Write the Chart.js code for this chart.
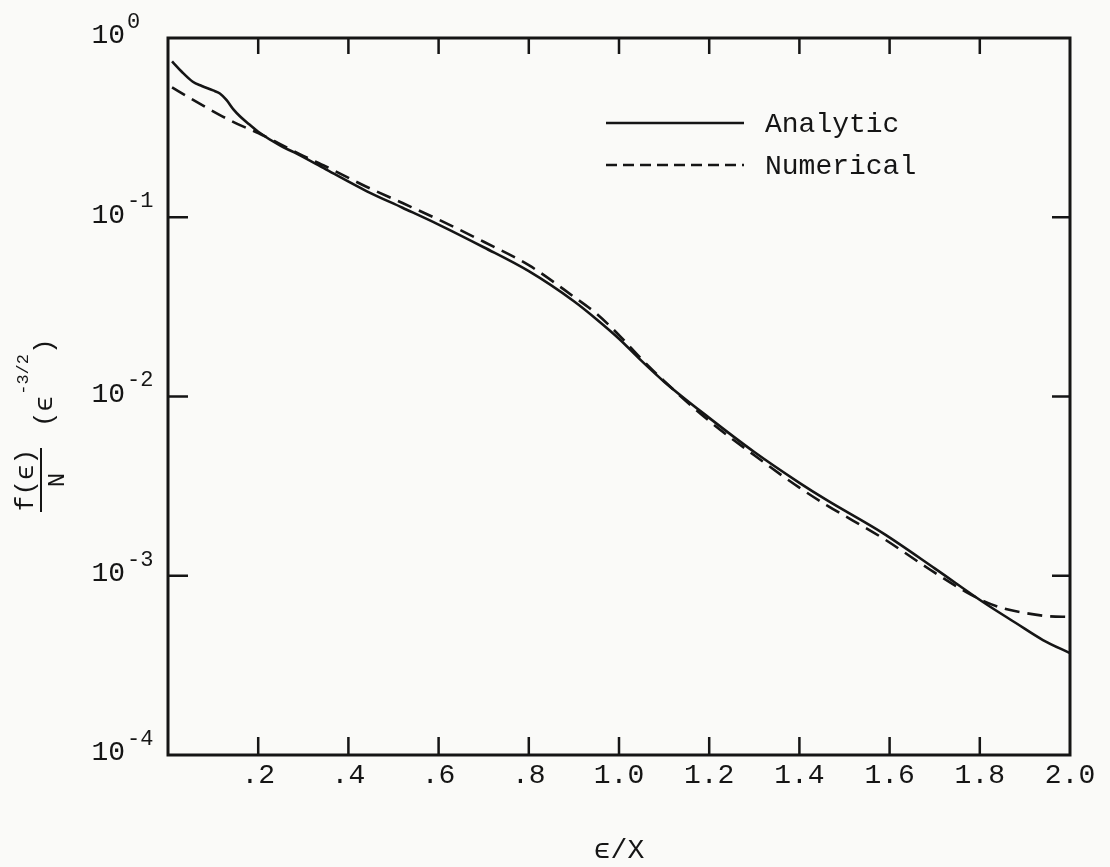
<!DOCTYPE html>
<html>
<head>
<meta charset="utf-8">
<script src="https://cdn.jsdelivr.net/npm/chart.js@4.4.1/dist/chart.umd.min.js"></script>
<style>
  html, body { margin: 0; padding: 0; background: #fafaf8; }
  #wrap { width: 1110px; height: 867px; }
</style>
</head>
<body>
<div id="wrap"><canvas id="c" width="1110" height="867"></canvas></div>
<script>
// ---- data ----
const analyticX = [0.009, 0.03, 0.055, 0.075, 0.1, 0.115, 0.13, 0.145, 0.16, 0.18, 0.2, 0.25, 0.28, 0.35, 0.44, 0.52, 0.6, 0.7, 0.8, 0.9, 0.95, 1.0, 1.05, 1.1, 1.2, 1.3, 1.4, 1.46, 1.585, 1.7, 1.807, 1.88, 1.94, 2.0];
const analyticY = [0.74, 0.65, 0.57, 0.54, 0.51, 0.49, 0.45, 0.40, 0.365, 0.33, 0.30, 0.25, 0.23, 0.185, 0.14, 0.113, 0.091, 0.068, 0.050, 0.034, 0.027, 0.021, 0.0158, 0.0121, 0.0076, 0.0049, 0.0033, 0.00265, 0.00173, 0.00110, 0.000714, 0.000545, 0.000438, 0.00037];
const numericalX = [0.009, 0.05, 0.1, 0.15, 0.2, 0.25, 0.3, 0.35, 0.44, 0.52, 0.6, 0.7, 0.8, 0.9, 0.95, 1.0, 1.05, 1.1, 1.2, 1.3, 1.4, 1.46, 1.585, 1.69, 1.77, 1.81, 1.85, 1.9, 1.95, 2.0];
const numericalY = [0.53, 0.46, 0.39, 0.335, 0.295, 0.255, 0.22, 0.192, 0.148, 0.12, 0.097, 0.073, 0.054, 0.036, 0.029, 0.022, 0.0162, 0.0122, 0.0073, 0.0047, 0.0031, 0.00248, 0.00162, 0.00108, 0.00081, 0.00072, 0.00066, 0.00062, 0.000595, 0.00059];

const xTickValues = [0, 0.2, 0.4, 0.6, 0.8, 1.0, 1.2, 1.4, 1.6, 1.8, 2.0];
const xTickLabels = ['', '.2', '.4', '.6', '.8', '1.0', '1.2', '1.4', '1.6', '1.8', '2.0'];
const yTickValues = [1, 0.1, 0.01, 0.001, 0.0001];
const yTickExponents = ['0', '-1', '-2', '-3', '-4'];
const seriesNames = ['Analytic', 'Numerical'];
const xTitle = 'ϵ/X';
const yTitleNum = 'f(ϵ)';
const yTitleDen = 'N';
const yTitleUnit = '(ϵ';
const yTitleExp = '-3/2';

const INK = '#151515';
const MONO = '"Liberation Mono", "DejaVu Sans Mono", monospace';

const toPts = (xs, ys) => xs.map((x, i) => ({ x: x, y: ys[i] }));

const decor = {
  id: 'decor',
  beforeDraw(chart) {
    const ctx = chart.ctx;
    ctx.save();
    ctx.fillStyle = '#fafaf8';
    ctx.fillRect(0, 0, chart.width, chart.height);
    ctx.restore();
  },
  afterDraw(chart) {
    const ctx = chart.ctx;
    const a = chart.chartArea;
    const xs = chart.scales.x, ys = chart.scales.y;
    ctx.save();
    ctx.strokeStyle = INK;
    ctx.fillStyle = INK;
    ctx.lineCap = 'butt';
    // frame
    ctx.lineWidth = 3;
    ctx.strokeRect(a.left, a.top, a.right - a.left, a.bottom - a.top);
    // inward tick marks
    ctx.lineWidth = 2.5;
    ctx.beginPath();
    xTickValues.forEach(v => {
      if (v <= xs.min || v >= xs.max) return;
      const px = xs.getPixelForValue(v);
      ctx.moveTo(px, a.bottom); ctx.lineTo(px, a.bottom - 18);
      ctx.moveTo(px, a.top); ctx.lineTo(px, a.top + 16);
    });
    yTickValues.forEach(v => {
      if (v <= ys.min || v >= ys.max) return;
      const py = ys.getPixelForValue(v);
      ctx.moveTo(a.left, py); ctx.lineTo(a.left + 20, py);
      ctx.moveTo(a.right, py); ctx.lineTo(a.right - 18, py);
    });
    ctx.stroke();
    // y tick labels 10^n
    ctx.textBaseline = 'middle';
    yTickValues.forEach((v, i) => {
      const py = ys.getPixelForValue(v);
      ctx.font = '28px ' + MONO;
      ctx.textAlign = 'right';
      ctx.fillText('10', a.left - 43, py - 2);
      ctx.font = '22px ' + MONO;
      ctx.textAlign = 'left';
      ctx.fillText(yTickExponents[i], a.left - 41, py - 16);
    });
    // y title (rotated, fraction)
    ctx.save();
    ctx.translate(0, 424);
    ctx.rotate(-Math.PI / 2);
    ctx.textBaseline = 'alphabetic';
    ctx.font = '26px ' + MONO;
    ctx.textAlign = 'center';
    ctx.fillText(yTitleNum, -56, 33);
    ctx.lineWidth = 2;
    ctx.beginPath();
    ctx.moveTo(-88, 41); ctx.lineTo(-24, 41);
    ctx.stroke();
    ctx.font = '24px ' + MONO;
    ctx.fillText(yTitleDen, -56, 64);
    ctx.textAlign = 'left';
    ctx.font = '26px ' + MONO;
    let cx = -3;
    ctx.fillText(yTitleUnit, cx, 52);
    cx += ctx.measureText(yTitleUnit).width + 1;
    ctx.font = '17px ' + MONO;
    ctx.fillText(yTitleExp, cx, 28);
    cx += ctx.measureText(yTitleExp).width;
    ctx.font = '26px ' + MONO;
    ctx.fillText(')', cx, 52);
    ctx.restore();
    // legend
    const ds = chart.data.datasets;
    const lx0 = 606, lx1 = 744, tx = 765;
    const rows = [123, 165];
    ds.forEach((d, i) => {
      const y = rows[i];
      ctx.lineWidth = 2.5;
      ctx.setLineDash(i === 0 ? [] : [11, 6]);
      ctx.beginPath();
      ctx.moveTo(lx0, y); ctx.lineTo(lx1, y);
      ctx.stroke();
      ctx.setLineDash([]);
      ctx.font = '28px ' + MONO;
      ctx.textAlign = 'left';
      ctx.textBaseline = 'middle';
      ctx.fillText(d.label, tx, y + 2);
    });
    ctx.restore();
  }
};

new Chart(document.getElementById('c'), {
  type: 'line',
  data: {
    datasets: [
      {
        label: seriesNames[0],
        data: toPts(analyticX, analyticY),
        borderColor: INK,
        borderWidth: 2.6,
        pointRadius: 0,
        fill: false,
        cubicInterpolationMode: 'monotone'
      },
      {
        label: seriesNames[1],
        data: toPts(numericalX, numericalY),
        borderColor: INK,
        borderWidth: 2.6,
        borderDash: [15, 8],
        pointRadius: 0,
        fill: false,
        cubicInterpolationMode: 'monotone'
      }
    ]
  },
  options: {
    responsive: false,
    devicePixelRatio: 1,
    animation: false,
    layout: { padding: { top: 38, right: 40, left: 0, bottom: 0 } },
    plugins: { legend: { display: false }, tooltip: { enabled: false } },
    scales: {
      x: {
        type: 'linear',
        min: 0, max: 2,
        grid: { display: false, drawTicks: false },
        border: { display: false },
        afterBuildTicks: s => { s.ticks = xTickValues.map(v => ({ value: v })); },
        afterFit: s => { s.height = 112; },
        ticks: {
          autoSkip: false, maxRotation: 0, padding: 4,
          color: INK,
          font: { family: MONO, size: 28 },
          callback: (v, i) => xTickLabels[i]
        },
        title: {
          display: true, text: xTitle, color: INK,
          font: { family: MONO, size: 28 },
          padding: { top: 0, bottom: 0 }
        }
      },
      y: {
        type: 'logarithmic',
        min: 0.0001, max: 1,
        grid: { display: false, drawTicks: false },
        border: { display: false },
        afterBuildTicks: s => { s.ticks = yTickValues.map(v => ({ value: v })); },
        afterFit: s => { s.width = 168; },
        ticks: { display: false }
      }
    }
  },
  plugins: [decor]
});
</script>
</body>
</html>
